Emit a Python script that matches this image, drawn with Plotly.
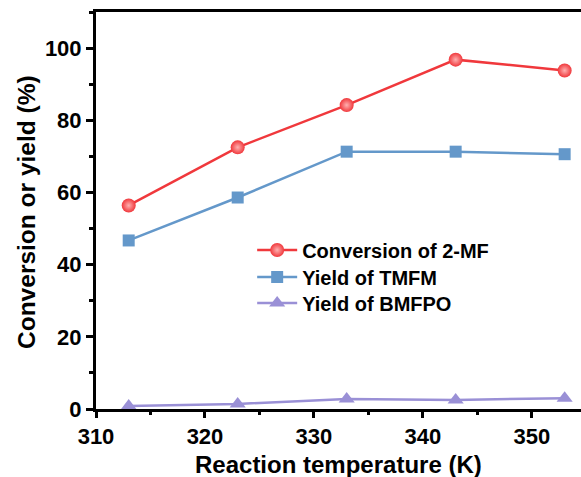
import plotly.graph_objects as go

temps = [313, 323, 333, 343, 353]
conversion_2mf = [56.4, 72.5, 84.2, 96.8, 93.8]
yield_tmfm = [46.7, 58.6, 71.3, 71.3, 70.6]
yield_bmfpo = [0.8, 1.4, 2.8, 2.5, 3.0]

x_ticks = [310, 320, 330, 340, 350]
y_ticks = [0, 20, 40, 60, 80, 100]

RED = "#F0383C"
BLUE = "#6498CA"
PURPLE = "#9A90D6"

fig = go.Figure()
fig.add_trace(go.Scatter(
    x=temps, y=conversion_2mf, name="Conversion of 2-MF", mode="lines+markers",
    line=dict(color=RED, width=2.5), legend="legend",
    marker=dict(symbol="circle", size=14, color=RED,
                gradient=dict(type="radial", color="#FFB0B0"),
                line=dict(width=0)),
))
fig.add_trace(go.Scatter(
    x=temps, y=yield_tmfm, name="Yield of TMFM", mode="lines+markers",
    line=dict(color=BLUE, width=2.5), legend="legend2",
    marker=dict(symbol="square", size=12, color=BLUE, line=dict(width=0)),
))
fig.add_trace(go.Scatter(
    x=temps, y=yield_bmfpo, name="Yield of BMFPO", mode="lines+markers",
    line=dict(color=PURPLE, width=2.5), legend="legend3",
    marker=dict(symbol="triangle-up", size=14, color=PURPLE, line=dict(width=0)),
))

font_family = "Liberation Sans, Arial, sans-serif"
W, H = 581, 477
L, R, T, B = 96, 0, 12, 68
PH = H - T - B


def legend_at(py):
    return dict(
        x=0.322, y=(H - B - py) / PH, xanchor="left", yanchor="middle",
        bgcolor="rgba(0,0,0,0)",
        font=dict(size=20, family=font_family, weight="bold"),
        itemwidth=40,
    )


fig.update_layout(
    width=W, height=H,
    margin=dict(l=L, r=R, t=T, b=B, autoexpand=False),
    plot_bgcolor="white", paper_bgcolor="white",
    font=dict(family=font_family, color="black"),
    showlegend=True,
    legend=legend_at(250),
    legend2=legend_at(277),
    legend3=legend_at(303),
    xaxis=dict(
        range=[310, 354.5], automargin=False,
        tickmode="array", tickvals=x_ticks, ticktext=[str(v) for v in x_ticks],
        ticks="outside", ticklen=6, tickwidth=2.5, tickcolor="black",
        minor=dict(dtick=5, tick0=310, ticks="outside", ticklen=3, tickwidth=2.5, tickcolor="black"),
        showline=True, linewidth=3, linecolor="black", mirror=True,
        showgrid=False, zeroline=False,
        tickfont=dict(size=22, family=font_family, weight="bold"),
    ),
    yaxis=dict(
        range=[0, 110], automargin=False,
        tickmode="array", tickvals=y_ticks, ticktext=[str(v) for v in y_ticks],
        ticks="outside", ticklen=7, tickwidth=2.5, tickcolor="black",
        minor=dict(dtick=10, tick0=0, ticks="outside", ticklen=4, tickwidth=2.5, tickcolor="black"),
        showline=True, linewidth=3, linecolor="black", mirror=False,
        showgrid=False, zeroline=False,
        tickfont=dict(size=22, family=font_family, weight="bold"),
    ),
    annotations=[
        dict(text="Reaction temperature (K)", xref="paper", yref="paper",
             x=0.5, y=-(464 - (H - B)) / PH, xanchor="center", yanchor="middle",
             showarrow=False, font=dict(size=24, family=font_family, weight="bold")),
        dict(text="Conversion or yield (%)", xref="paper", yref="paper",
             x=-(L - 26) / (W - L - R), y=(H - B - 212) / PH, xanchor="center", yanchor="middle",
             textangle=-90,
             showarrow=False, font=dict(size=24.5, family=font_family, weight="bold")),
    ],
)

fig.write_html("out.html", config={"displayModeBar": False},
               post_script="document.body.style.margin='0';document.body.style.overflow='hidden';")
